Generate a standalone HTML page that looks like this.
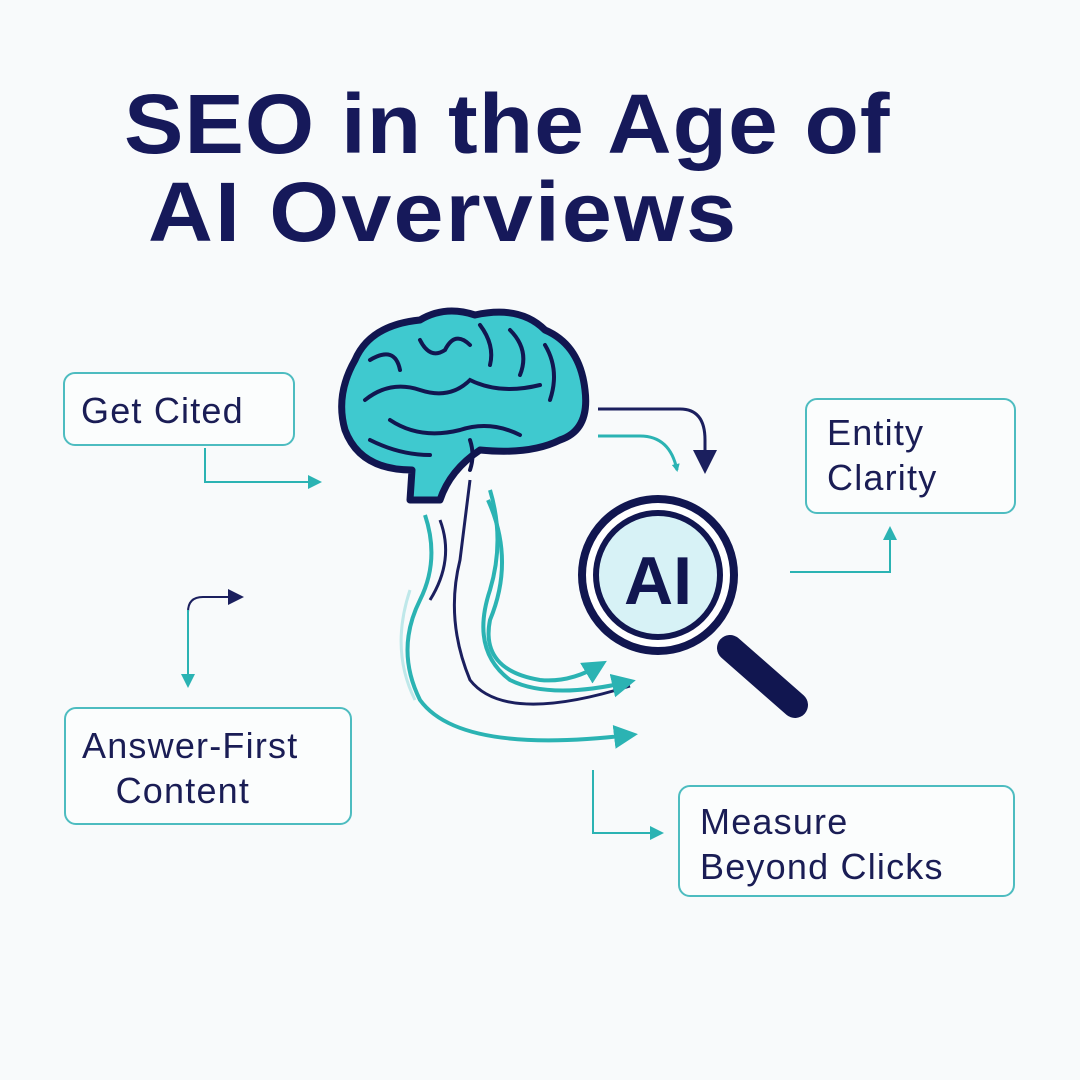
<!DOCTYPE html>
<html><head><style>
body{margin:0;width:1080px;height:1080px;background:#f8fafb;overflow:hidden;font-family:"Liberation Sans",sans-serif;}
.t{position:absolute;color:#16195a;font-weight:bold;font-size:84px;letter-spacing:1px;white-space:nowrap;transform:scaleX(1.06);transform-origin:0 0}
.b{position:absolute;border:2px solid #4dbcc0;border-radius:12px;background:#fbfdfd;color:#1a1d55;font-size:36px;letter-spacing:1.2px;box-sizing:border-box;line-height:45px;white-space:nowrap}
</style></head><body>
<div class="t" style="left:124px;top:76px">SEO in the Age of</div>
<div class="t" style="left:148px;top:164px;letter-spacing:2px;transform:scaleX(1.07)">AI Overviews</div>
<div class="b" style="left:63px;top:372px;width:232px;height:74px;padding:14px 0 0 16px">Get Cited</div>
<div class="b" style="left:805px;top:398px;width:211px;height:116px;padding:10px 0 0 20px">Entity<br>Clarity</div>
<div class="b" style="left:64px;top:707px;width:288px;height:118px;padding:14px 0 0 16px">Answer-First<br>&nbsp;&nbsp;&nbsp;Content</div>
<div class="b" style="left:678px;top:785px;width:337px;height:112px;padding:12px 0 0 20px">Measure<br>Beyond Clicks</div>
<svg width="1080" height="1080" style="position:absolute;left:0;top:0" fill="none">
<defs>
<marker id="ta" markerWidth="8" markerHeight="8" refX="6" refY="4" orient="auto" markerUnits="userSpaceOnUse" viewBox="0 0 8 8"><path d="M0 0L8 4L0 8Z" fill="#2bb3b3"/></marker>
<marker id="tm" markerWidth="14" markerHeight="14" refX="10" refY="7" orient="auto" markerUnits="userSpaceOnUse" viewBox="0 0 14 14"><path d="M0 0L14 7L0 14Z" fill="#2bb3b3"/></marker>
<marker id="na" markerWidth="8" markerHeight="8" refX="6" refY="4" orient="auto" viewBox="0 0 8 8"><path d="M0 0L8 4L0 8Z" fill="#1b1f5e"/></marker>
<marker id="tb" markerWidth="6" markerHeight="6" refX="4" refY="3" orient="auto" viewBox="0 0 6 6"><path d="M0 0L6 3L0 6Z" fill="#2bb3b3"/></marker>
</defs>
<g stroke-width="2">
<path d="M205 448V482H318" stroke="#2bb3b3" marker-end="url(#tm)"/>
<path d="M188 680V612Q188 597 203 597H240" stroke="#1b1f5e" marker-end="url(#na)"/>
<path d="M188 610V684" stroke="#2bb3b3" marker-end="url(#tm)"/>
<path d="M790 572H890V530" stroke="#2bb3b3" marker-end="url(#tm)"/>
<path d="M593 770V833H660" stroke="#2bb3b3" marker-end="url(#tm)"/>
<path d="M598 409H680Q705 409 705 440V468" stroke="#1b1f5e" stroke-width="3" marker-end="url(#na)"/>
<path d="M598 436H640Q670 436 677 470" stroke="#2bb3b3" stroke-width="3" marker-end="url(#ta)"/>
</g>
<path d="M425 515Q440 560 420 600Q395 650 420 700Q460 755 630 735" stroke="#2bb3b3" stroke-width="4" marker-end="url(#tb)"/>
<path d="M470 480Q465 520 460 560Q445 620 470 680Q505 725 630 686" stroke="#1b1f5e" stroke-width="3"/>
<path d="M490 490Q505 540 490 590Q470 650 510 680Q550 700 628 682" stroke="#2bb3b3" stroke-width="4" marker-end="url(#tb)"/>
<path d="M488 500Q515 560 490 620Q480 670 540 680Q570 683 600 665" stroke="#2bb3b3" stroke-width="4" marker-end="url(#tb)"/>
<path d="M440 520Q455 560 430 600" stroke="#1b1f5e" stroke-width="3"/>
<path d="M410 590Q390 650 415 700" stroke="#bfe8ea" stroke-width="3"/>
<path d="M410 500L412 470Q360 470 345 430Q335 395 355 360Q370 325 420 320Q445 305 475 315Q520 305 545 330Q580 345 585 390Q590 430 560 440Q530 455 480 450Q450 470 440 500Z" fill="#3fc9cf" stroke="#111650" stroke-width="7" stroke-linejoin="round"/>
<g stroke="#111650" stroke-width="4" stroke-linecap="round">
<path d="M365 400Q390 380 420 390Q450 400 470 380Q500 395 540 385"/>
<path d="M370 360Q395 345 400 370"/>
<path d="M420 340Q430 360 445 350Q455 330 470 345"/>
<path d="M480 325Q495 345 490 365"/>
<path d="M510 330Q530 350 520 375"/>
<path d="M545 345Q560 370 550 400"/>
<path d="M390 420Q420 440 460 430Q490 420 520 435"/>
<path d="M370 440Q400 455 430 455"/>
<path d="M470 440Q475 455 470 470"/>
</g>
<path d="M730 648L795 705" stroke="#111650" stroke-width="26" stroke-linecap="round"/>
<circle cx="658" cy="575" r="76" fill="#fff" stroke="#111650" stroke-width="8"/>
<circle cx="658" cy="575" r="62" fill="#d7f2f6" stroke="#111650" stroke-width="6"/>
<text x="658" y="604" text-anchor="middle" font-family="Liberation Sans" font-weight="bold" font-size="68" fill="#111650">AI</text>
</svg>
</body></html>
